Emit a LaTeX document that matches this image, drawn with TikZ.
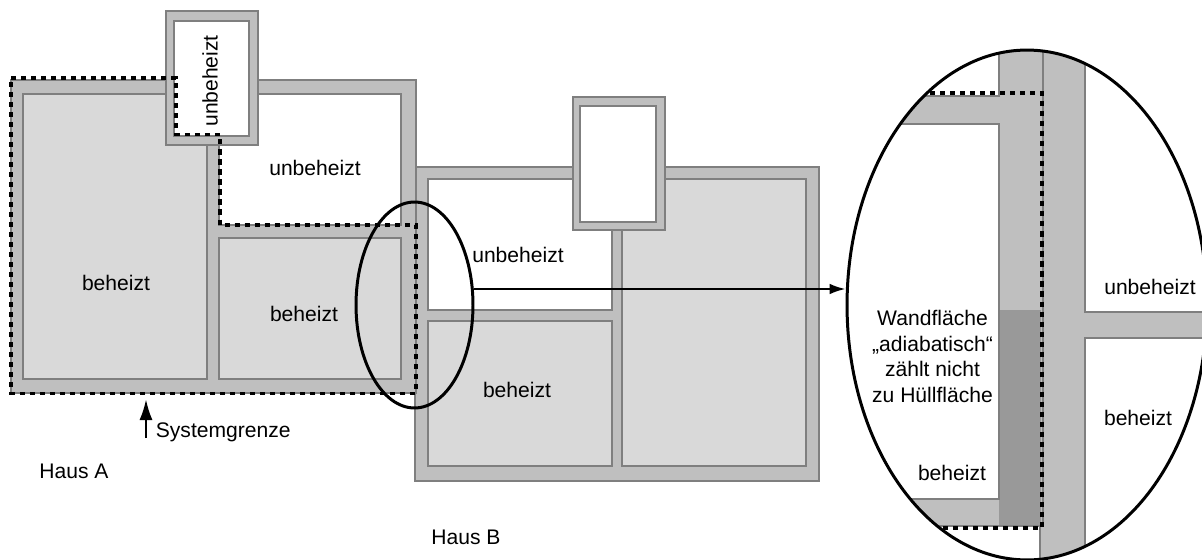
\documentclass[tikz,border=0pt]{standalone}
\usepackage{fontspec}
\setmainfont{Liberation Sans}
\usetikzlibrary{arrows.meta,shapes.geometric}
\definecolor{wandgrau}{HTML}{BFBFBF}
\definecolor{raumgrau}{HTML}{D9D9D9}
\definecolor{liniengrau}{HTML}{7F7F7F}
\definecolor{adiabatgrau}{HTML}{999999}

\begin{document}
\begin{tikzpicture}[
    x=0.02cm, y=-0.02cm,
    font=\fontsize{12}{14.6}\selectfont,
    % Stile für Konsistenz
    wand/.style={draw=liniengrau, line width=0.9pt, fill=wandgrau},
    raum_warm/.style={draw=liniengrau, line width=0.9pt, fill=raumgrau},
    raum_kalt/.style={draw=liniengrau, line width=0.9pt, fill=white},
    kante/.style={draw=liniengrau, line width=0.9pt},
    grenze/.style={draw=black, line width=2pt, dash pattern=on 2.9pt off 2.8pt},
    lupe/.style={ellipse, draw=black, line width=1.7pt, inner sep=0pt},
    raum_text/.style={inner sep=0pt, align=center},
    pfeil/.style={draw=black, line width=1.2pt, -{Latex[length=9pt, width=6pt]}}
]
    \useasboundingbox (0,0) rectangle (1202,560);

    % ==========================================
    % HAUS B
    % ==========================================
    \begin{scope}
        \draw[wand] (415,167) rectangle (819,481);
        \draw[raum_kalt] (428,179) rectangle (612,310);
        \draw[raum_warm] (428,321) rectangle (612,466);
        \draw[raum_warm] (622,179) rectangle (806,466);

        % Anbau
        \draw[wand] (573,97) rectangle (665,230);
        \draw[raum_kalt] (580,106) rectangle (656,222);

        \node[raum_text] (b_kalt) at (518,255) {unbeheizt};
        \node[raum_text] (b_warm) at (517,390) {beheizt};
        \node[raum_text, anchor=west] (haus_b) at (431,537) {Haus B};
    \end{scope}

    % ==========================================
    % HAUS A
    % ==========================================
    \begin{scope}
        \draw[wand] (11,80) rectangle (416,393);
        \draw[raum_warm] (23,94) rectangle (207,379);
        \draw[raum_kalt] (219,94) rectangle (401,225);
        \draw[raum_warm] (219,238) rectangle (401,379);

        % Anbau
        \draw[wand] (166,11) rectangle (258,145);
        \draw[raum_kalt] (174,21) rectangle (249,136);

        % Systemgrenze
        \draw[grenze] (11,78) -- (176,78) -- (176,134.5) -- (220,134.5) -- (220,225)
            -- (416,225) -- (416,393.5) -- (11,393.5) -- cycle;

        \node[raum_text, rotate=90] (a_anbau) at (210,81) {unbeheizt};
        \node[raum_text] (a_kalt) at (315,168) {unbeheizt};
        \node[raum_text] (a_warm_links) at (116,283) {beheizt};
        \node[raum_text] (a_warm_rechts) at (304,314) {beheizt};
        \node[raum_text, anchor=west] (haus_a) at (39,471) {Haus A};

        \node[raum_text, anchor=west] (systemgrenze) at (155.5,432) {Systemgrenze};
        \coordinate (grenze_fuss) at (146,438);
        \coordinate (grenze_spitze) at (146,399);
        \draw[pfeil, line width=1.5pt, -{Latex[length=12pt, width=7.5pt]}] (grenze_fuss) -- (grenze_spitze);
    \end{scope}

    % ==========================================
    % DETAIL (Ellipse rechts)
    % ==========================================
    \begin{scope}
        \clip (1027,305) ellipse (180 and 255);

        % Wände
        \fill[wandgrau] (840,96) rectangle (999,124);
        \fill[wandgrau] (840,499) rectangle (1043,526);
        \fill[wandgrau] (999,40) rectangle (1043,526);
        \fill[wandgrau] (1043,40) rectangle (1085,560);
        \fill[wandgrau] (1040,526) rectangle (1085,560);
        \fill[wandgrau] (1085,312) rectangle (1210,338);
        \fill[adiabatgrau] (999,310) rectangle (1041,526);

        % Kanten
        \draw[kante] (840,96) -- (999,96) -- (999,40);
        \draw[kante] (840,124) -- (999,124) -- (999,499) -- (840,499);
        \draw[kante] (840,526) -- (1043,526) -- (1043,40);
        \draw[kante] (1040,527) -- (1040,560);
        \draw[kante] (1085,40) -- (1085,312) -- (1210,312);
        \draw[kante] (1210,338) -- (1085,338) -- (1085,560);

        % Systemgrenze
        \draw[grenze] (900,93) -- (1042,93) -- (1042,528) -- (900,528);
    \end{scope}

    \node[raum_text] (d_adiabat) at (932.5,356.5) {Wandfläche\\„adiabatisch“\\zählt nicht\\zu Hüllfläche};
    \node[raum_text] (d_warm_links) at (952,473) {beheizt};
    \node[raum_text] (d_kalt) at (1150,287) {unbeheizt};
    \node[raum_text] (d_warm_rechts) at (1138,418) {beheizt};

    % ==========================================
    % LUPE UND PFEIL
    % ==========================================
    \node[lupe, minimum width=2.34cm, minimum height=4.12cm] (lupe_klein) at (414.5,305) {};
    \node[lupe, minimum width=7.2cm, minimum height=10.2cm] (lupe_gross) at (1027,305) {};

    \coordinate (pfeil_hoehe) at (600,289);
    \draw[pfeil] (pfeil_hoehe -| lupe_klein.east) -- (pfeil_hoehe -| lupe_gross.west);

\end{tikzpicture}
\end{document}
